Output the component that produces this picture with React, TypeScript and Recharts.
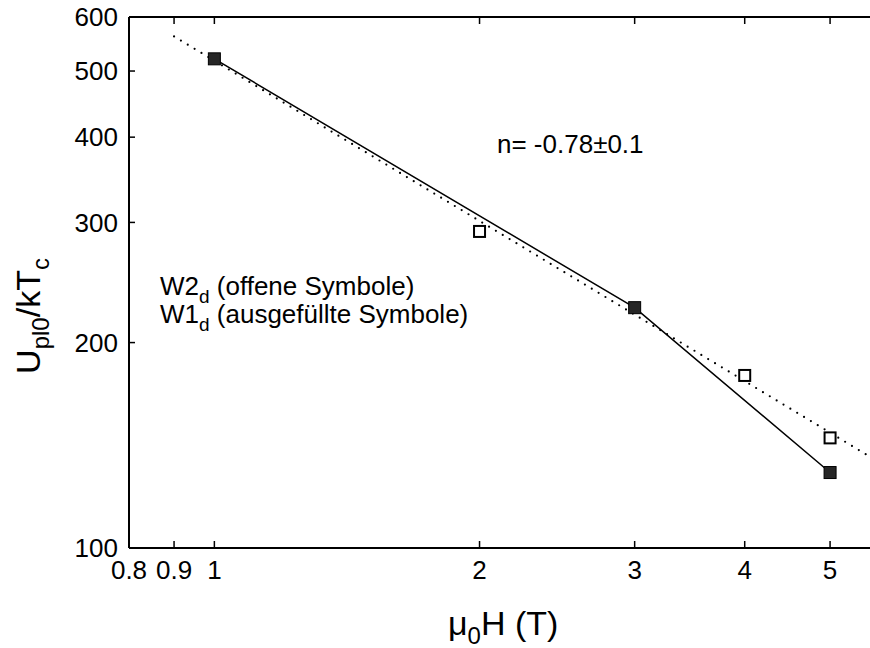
import React from "react";
import {
  ComposedChart,
  Line,
  Scatter,
  XAxis,
  YAxis,
} from "recharts";

// W1d (filled symbols), connected by the solid line
const filledX = [1, 3, 5];
const filledY = [521, 225, 129];

// W2d (open symbols)
const openX = [2, 4, 5];
const openY = [291, 179, 145];

// power-law fit through the open symbols, drawn dotted (end points)
const fitX = [0.9, 5.5];
const fitY = [562, 137];

const xTicks = [0.8, 0.9, 1, 2, 3, 4, 5];
const yTicks = [100, 200, 300, 400, 500, 600];

const filled = filledX.map((x, i) => ({ x, y: filledY[i] }));
const open = openX.map((x, i) => ({ x, y: openY[i] }));
const fit = fitX.map((x, i) => ({ x, y: fitY[i] }));

const FONT = '"Liberation Sans", Arial, Helvetica, sans-serif';
const tickStyle = { fill: "#000", fontSize: 26, fontFamily: FONT };

const FilledSquare = (props: any) => {
  const { cx, cy } = props;
  return (
    <rect x={cx - 6} y={cy - 6} width={12} height={12} fill="#262626" stroke="#000" strokeWidth={1} />
  );
};

const OpenSquare = (props: any) => {
  const { cx, cy } = props;
  return (
    <rect x={cx - 5.5} y={cy - 5.5} width={11} height={11} fill="#fff" stroke="#000" strokeWidth={2} />
  );
};

const App = () => {
  return (
    <div style={{ position: "absolute", left: 0, top: 0, width: 870, height: 648, background: "#fff" }}>
      <ComposedChart
        width={870}
        height={648}
        margin={{ top: 0, right: 0, bottom: 70, left: 0 }}
      >
        <XAxis
          dataKey="x"
          type="number"
          scale="log"
          domain={[0.8, 5.55]}
          allowDataOverflow
          ticks={xTicks}
          interval={0}
          height={30}
          tickSize={-7}
          tickMargin={20}
          tick={tickStyle}
          tickFormatter={(v: number) => String(v)}
          axisLine={{ stroke: "#000", strokeWidth: 2 }}
          tickLine={{ stroke: "#000", strokeWidth: 1.5 }}
        />
        <XAxis
          xAxisId="top"
          orientation="top"
          dataKey="x"
          type="number"
          scale="log"
          domain={[0.8, 5.55]}
          allowDataOverflow
          ticks={xTicks}
          interval={0}
          height={17}
          tickSize={-7}
          tickFormatter={() => ""}
          axisLine={{ stroke: "#000", strokeWidth: 2 }}
          tickLine={{ stroke: "#000", strokeWidth: 1.5 }}
        />
        <YAxis
          dataKey="y"
          type="number"
          scale="log"
          domain={[100, 600]}
          allowDataOverflow
          ticks={yTicks}
          interval={0}
          width={129}
          tickSize={-6}
          tickMargin={17}
          tick={tickStyle}
          axisLine={{ stroke: "#000", strokeWidth: 2 }}
          tickLine={{ stroke: "#000", strokeWidth: 1.5 }}
        />
        <Line
          data={fit}
          dataKey="y"
          type="linear"
          stroke="#000"
          strokeWidth={2.2}
          strokeDasharray="0 8"
          strokeLinecap="round"
          dot={false}
          activeDot={false}
          isAnimationActive={false}
        />
        <Line
          data={filled}
          dataKey="y"
          type="linear"
          stroke="#000"
          strokeWidth={1.5}
          dot={false}
          activeDot={false}
          isAnimationActive={false}
        />
        <Scatter data={open} dataKey="y" shape={<OpenSquare />} isAnimationActive={false} />
        <Scatter data={filled} dataKey="y" shape={<FilledSquare />} isAnimationActive={false} />
      </ComposedChart>

      <svg
        width={870}
        height={648}
        style={{ position: "absolute", left: 0, top: 0, pointerEvents: "none" }}
        fontFamily={FONT}
        fill="#000"
      >
        <text x={497} y={153} fontSize={26}>
          n= -0.78±0.1
        </text>
        <text x={160} y={295} fontSize={26}>
          W2<tspan dy={8} fontSize={19}>d</tspan>
          <tspan dy={-8}> (offene Symbole)</tspan>
        </text>
        <text x={160} y={323} fontSize={26}>
          W1<tspan dy={8} fontSize={19}>d</tspan>
          <tspan dy={-8}> (ausgefüllte Symbole)</tspan>
        </text>
        <g transform="translate(40,316) rotate(-90)">
          <text x={0} y={0} fontSize={34} textAnchor="middle">
            U<tspan dy={9} fontSize={24}>pl0</tspan>
            <tspan dy={-9}>/kT</tspan>
            <tspan dy={9} fontSize={24}>c</tspan>
          </text>
        </g>
        <text x={448} y={635} fontSize={34}>
          μ<tspan dy={9} fontSize={24}>0</tspan>
          <tspan dy={-9}>H (T)</tspan>
        </text>
      </svg>
    </div>
  );
};

export default App;
